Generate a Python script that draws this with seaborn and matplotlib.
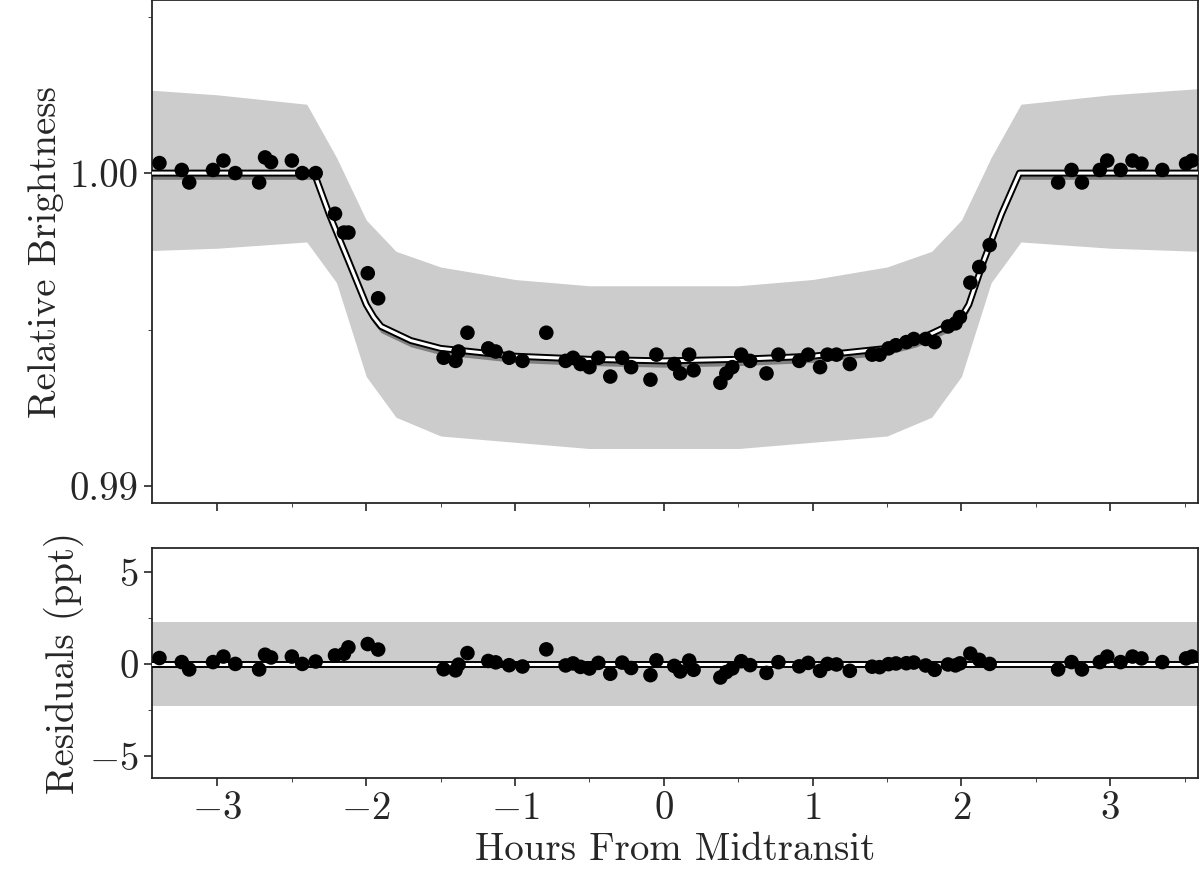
import matplotlib
matplotlib.use("Agg")
import matplotlib.pyplot as plt
from matplotlib.ticker import AutoMinorLocator
import numpy as np
import pandas as pd
import seaborn as sns

sns.set_style("ticks")
plt.rcParams['font.family'] = ['cmr10', 'DejaVu Serif']
plt.rcParams['axes.formatter.use_mathtext'] = True
plt.rcParams['mathtext.fontset'] = 'cm'

# binned observations (hours from midtransit, relative flux)
bin_hours = [-3.39, -3.24, -3.19, -3.03, -2.96, -2.88, -2.72, -2.68, -2.64, -2.50, -2.43, -2.34,
             -2.21, -2.15, -2.12, -1.99, -1.92, -1.48, -1.40, -1.38, -1.32, -1.18, -1.13, -1.04,
             -0.95, -0.79, -0.66, -0.61, -0.56, -0.50, -0.44, -0.36, -0.28, -0.22, -0.09, -0.05,
             0.07, 0.11, 0.17, 0.20, 0.38, 0.42, 0.46, 0.52, 0.58, 0.69, 0.77, 0.91, 0.97, 1.05,
             1.10, 1.16, 1.25, 1.40, 1.45, 1.51, 1.56, 1.63, 1.68, 1.76, 1.82, 1.91, 1.96, 1.99,
             2.06, 2.12, 2.19, 2.65, 2.74, 2.81, 2.93, 2.98, 3.07, 3.15, 3.21, 3.35, 3.51, 3.55]
bin_flux = [1.00032, 1.0001, 0.9997, 1.0001, 1.0004, 1.0000, 0.9997, 1.0005, 1.00035, 1.0004, 1.0000, 1.0000,
            0.9987, 0.9981, 0.9981, 0.9968, 0.9960, 0.9941, 0.9940, 0.9943, 0.9949, 0.9944, 0.9943, 0.9941,
            0.9940, 0.9949, 0.9940, 0.9941, 0.9939, 0.9938, 0.9941, 0.9935, 0.9941, 0.9938, 0.9934, 0.9942,
            0.9939, 0.9936, 0.9942, 0.9937, 0.9933, 0.9936, 0.9938, 0.9942, 0.9940, 0.9936, 0.9942, 0.9940,
            0.9942, 0.9938, 0.9942, 0.9942, 0.9939, 0.9942, 0.9942, 0.9944, 0.9945, 0.9946, 0.9947, 0.9947,
            0.9946, 0.9951, 0.9952, 0.9954, 0.9965, 0.9970, 0.9977, 0.9997, 1.0001, 0.9997, 1.0001, 1.0004,
            1.0001, 1.0004, 1.0003, 1.0001, 1.0003, 1.0004]

# transit model
model_hours = [-3.6, -2.35, -2.25, -2.12, -2.0, -1.95, -1.9, -1.7, -1.5, -1.0, -0.5, 0.0,
               0.5, 1.0, 1.5, 1.7, 1.9, 2.0, 2.05, 2.15, 2.27, 2.39, 3.6]
model_flux = [1.0, 1.0, 0.9987, 0.9972, 0.9958, 0.9954, 0.9951, 0.99465, 0.9944, 0.99415, 0.99405, 0.9940,
              0.99405, 0.99415, 0.9944, 0.99465, 0.9951, 0.9954, 0.9958, 0.9972, 0.9987, 1.0, 1.0]

# envelope of the bulk of the unbinned grey data
env_hours = [-3.6, -3.0, -2.4, -2.2, -2.0, -1.8, -1.5, -1.0, -0.5, 0.0, 0.5, 1.0, 1.5, 1.8, 2.0, 2.2, 2.4, 3.0, 3.6]
env_upper = [1.0027, 1.0025, 1.0022, 1.0005, 0.9985, 0.9975, 0.9970, 0.9966, 0.9964, 0.9964, 0.9964, 0.9966,
             0.9970, 0.9975, 0.9985, 1.0005, 1.0022, 1.0025, 1.0027]
env_lower = [0.9975, 0.9976, 0.9978, 0.9965, 0.9935, 0.9922, 0.9916, 0.9914, 0.9912, 0.9912, 0.9912, 0.9914,
             0.9916, 0.9922, 0.9935, 0.9965, 0.9978, 0.9976, 0.9975]
resid_upper = 2.3
resid_lower = -2.3

df_bin = pd.DataFrame({"hours": bin_hours, "flux": bin_flux})
df_bin["resid"] = (df_bin.flux - np.interp(df_bin.hours, model_hours, model_flux)) * 1000
df_model = pd.DataFrame({"hours": model_hours, "flux": model_flux})

fig = plt.figure(figsize=(12, 8.86), dpi=100)
ax1 = fig.add_axes([152 / 1200, 1 - 503 / 886, 1046 / 1200, 503 / 886])
ax2 = fig.add_axes([152 / 1200, 1 - 778 / 886, 1046 / 1200, 230 / 886])

grey = "#cccccc"
ax1.fill_between(env_hours, env_lower, env_upper, color=grey, lw=0, zorder=1)
ax1.fill_between(model_hours, np.array(model_flux) - 0.0002, np.array(model_flux) + 0.0001,
                 color="#808080", lw=0, zorder=2)
sns.lineplot(data=df_model, x="hours", y="flux", ax=ax1, color="black", lw=5, zorder=3)
sns.lineplot(data=df_model, x="hours", y="flux", ax=ax1, color="white", lw=2.2, zorder=4)
sns.scatterplot(data=df_bin, x="hours", y="flux", ax=ax1, color="black", s=110, edgecolor="none", zorder=5)

ax2.fill_between([-3.6, 3.6], [resid_lower] * 2, [resid_upper] * 2, color=grey, lw=0, zorder=1)
sns.lineplot(x=[-3.6, 3.6], y=[0, 0], ax=ax2, color="black", lw=5, zorder=3)
sns.lineplot(x=[-3.6, 3.6], y=[0, 0], ax=ax2, color="white", lw=2.2, zorder=4)
sns.scatterplot(data=df_bin, x="hours", y="resid", ax=ax2, color="black", s=110, edgecolor="none", zorder=5)

for ax in (ax1, ax2):
    ax.set_xlim(-3.44, 3.59)
    ax.xaxis.set_minor_locator(AutoMinorLocator(2))
    ax.yaxis.set_minor_locator(AutoMinorLocator(2))
    ax.tick_params(labelsize=28, length=6, width=1.2)
    ax.tick_params(which="minor", length=3)
    for s in ax.spines.values():
        s.set_linewidth(1.3)

ax1.set_ylim(0.98946, 1.00553)
ax1.set_yticks([0.99, 1.00])
ax1.set_yticklabels(["0.99", "1.00"])
ax1.set_xticklabels([])
ax1.set_xlabel("")
ax1.set_ylabel("Relative Brightness", fontsize=28)

ax2.set_ylim(-6.2, 6.3)
ax2.set_yticks([-5, 0, 5])
ax2.set_xticks([-3, -2, -1, 0, 1, 2, 3])
ax2.set_xlabel("Hours From Midtransit", fontsize=28)
ax2.set_ylabel("Residuals (ppt)", fontsize=28)

fig.savefig("out.png", dpi=100)
